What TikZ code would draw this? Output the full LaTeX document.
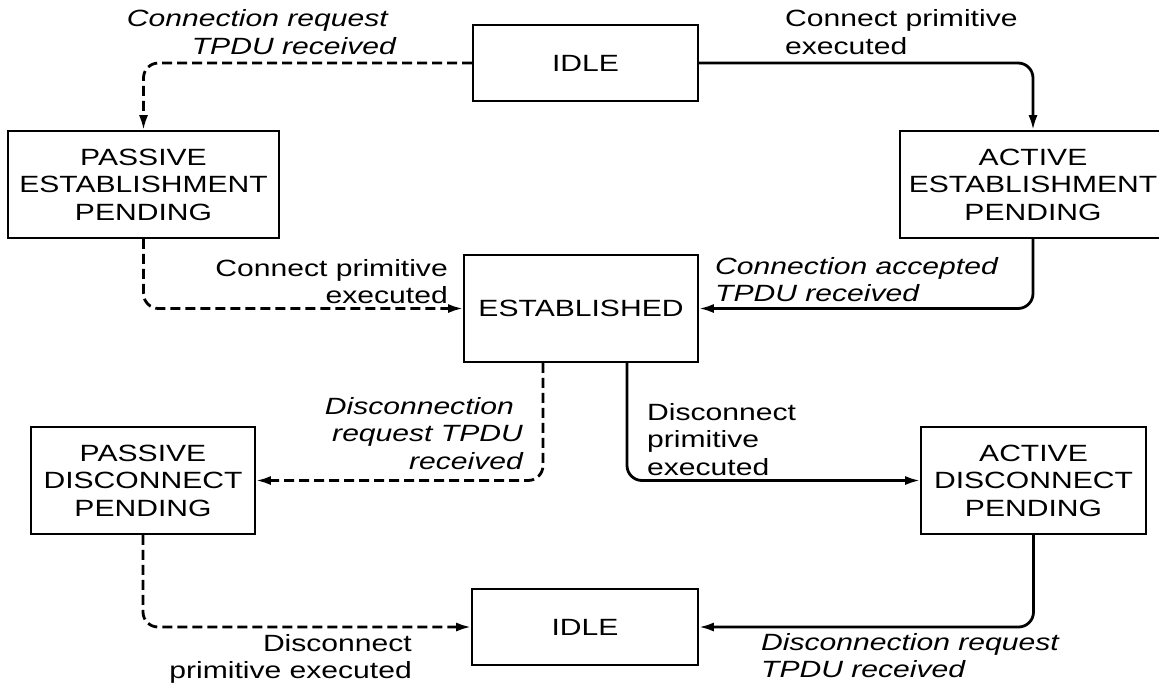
\documentclass[tikz,border=0pt]{standalone}
\usepackage{fontspec}
\setmainfont{Liberation Sans}[FakeStretch=1.28]
\usetikzlibrary{arrows.meta}
\begin{document}
\begin{tikzpicture}[x=1pt,y=-1pt,
  font=\fontsize{23.5}{27.5}\selectfont,
  state/.style={draw, line width=1.6pt, align=center, inner sep=0pt},
  lbl/.style={inner sep=0pt},
  ilbl/.style={inner sep=0pt, font=\fontsize{23.5}{27.5}\selectfont\itshape},
  conn/.style={line width=2.8pt, rounded corners=15pt,
    -{Latex[length=15pt,width=9pt]}},
  dconn/.style={conn, dash pattern=on 10pt off 5pt}]
\useasboundingbox (0,0) rectangle (1159,683);

% states
\node[state, minimum width=225pt, minimum height=76pt]  (idleA) at (585.5,63)  {IDLE};
\node[state, minimum width=271pt, minimum height=107pt] (pep)   at (143.5,184.5) {PASSIVE\\ESTABLISHMENT\\PENDING};
\node[state, minimum width=266pt, minimum height=107pt] (aep)   at (1033,184.5) {ACTIVE\\ESTABLISHMENT\\PENDING};
\node[state, minimum width=234pt, minimum height=107pt] (est)   at (581,308.5) {ESTABLISHED};
\node[state, minimum width=224pt, minimum height=107pt] (pdp)   at (143,480.5) {PASSIVE\\DISCONNECT\\PENDING};
\node[state, minimum width=225pt, minimum height=107pt] (adp)   at (1033.5,480.5) {ACTIVE\\DISCONNECT\\PENDING};
\node[state, minimum width=226pt, minimum height=76pt]  (idleB) at (585,627)   {IDLE};

% transitions
\draw[dconn] (idleA.west) -| (pep.north);
\draw[dconn] (pep.south) |- (est.west);
\draw[conn]  (idleA.east) -| (aep.north);
\draw[conn]  (aep.south) |- (est.east);
\draw[dconn] ([xshift=-38pt]est.south) |- (pdp.east);
\draw[conn]  ([xshift=46pt]est.south) |- (adp.west);
\draw[dconn] (pdp.south) |- (idleB.west);
\draw[conn]  (adp.south) |- (idleB.east);

% transition labels
\node[ilbl, align=right, anchor=north east] (t1) at (396,9.5)
  {Connection request\hspace*{8pt}\\TPDU received};
\node[lbl, align=left, anchor=north west] (t2) at (785,9.5)
  {Connect primitive\\executed};
\node[lbl, align=right, anchor=north east] (t3) at (448,259)
  {Connect primitive\\executed};
\node[ilbl, align=left, anchor=north west] (t4) at (715,257)
  {Connection accepted\\TPDU received};
\node[ilbl, align=right, anchor=north east] (t5) at (523,397)
  {Disconnection\hspace*{9pt}\\request TPDU\hspace*{9pt}\\received};
\node[lbl, align=left, anchor=north west] (t6) at (647,403)
  {Disconnect\\primitive\\executed};
\node[lbl, align=right, anchor=north east] (t7) at (412,634)
  {Disconnect\\primitive executed};
\node[ilbl, align=left, anchor=north west] (t8) at (761,633)
  {Disconnection request\\TPDU received};
\end{tikzpicture}
\end{document}
